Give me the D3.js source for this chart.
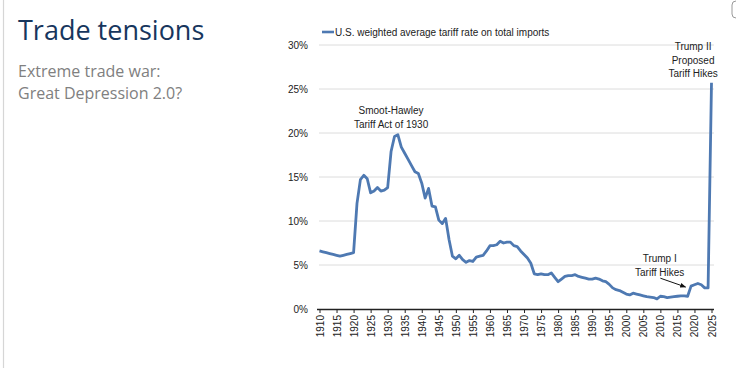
<!DOCTYPE html>
<html lang="en">
<head>
  <meta charset="UTF-8">
  <title>Trade tensions</title>
  <script src="https://d3js.org/d3.v7.min.js"></script>
  <style>
    body { margin: 0; background: #fff; }
    .title { font-family: "Open Sans", sans-serif; }
    .chart text { font-family: "Liberation Sans", Arial, sans-serif; font-size: 10px; fill: #222; }
    .grid line { stroke: #dcdcdc; stroke-width: 1; }
  </style>
</head>
<body>
<div id="chart"></div>
<script>
  // years of the series
  const years = [
    1910, 1911, 1912, 1913, 1914, 1915, 1916, 1917, 1918, 1919,
    1920, 1921, 1922, 1923, 1924, 1925, 1926, 1927, 1928, 1929,
    1930, 1931, 1932, 1933, 1934, 1935, 1936, 1937, 1938, 1939,
    1940, 1941, 1942, 1943, 1944, 1945, 1946, 1947, 1948, 1949,
    1950, 1951, 1952, 1953, 1954, 1955, 1956, 1957, 1958, 1959,
    1960, 1961, 1962, 1963, 1964, 1965, 1966, 1967, 1968, 1969,
    1970, 1971, 1972, 1973, 1974, 1975, 1976, 1977, 1978, 1979,
    1980, 1981, 1982, 1983, 1984, 1985, 1986, 1987, 1988, 1989,
    1990, 1991, 1992, 1993, 1994, 1995, 1996, 1997, 1998, 1999,
    2000, 2001, 2002, 2003, 2004, 2005, 2006, 2007, 2008, 2009,
    2010, 2011, 2012, 2013, 2014, 2015, 2016, 2017, 2018, 2019,
    2020, 2021, 2022, 2023, 2024, 2025
  ];
  // U.S. weighted average tariff rate on total imports (%)
  const tariff = [
    6.6, 6.5, 6.4, 6.3, 6.2, 6.1, 6.0, 6.1, 6.2, 6.3,
    6.4, 12.0, 14.7, 15.2, 14.8, 13.2, 13.4, 13.8, 13.4, 13.5,
    13.8, 17.9, 19.6, 19.8, 18.4, 17.7, 17.0, 16.3, 15.6, 15.4,
    14.3, 12.6, 13.7, 11.7, 11.6, 10.1, 9.7, 10.3, 7.9, 6.0,
    5.7, 6.1, 5.6, 5.3, 5.5, 5.4, 5.9, 6.0, 6.1, 6.6,
    7.2, 7.2, 7.3, 7.7, 7.5, 7.6, 7.6, 7.2, 7.1, 6.6,
    6.2, 5.8, 5.2, 4.0, 3.9, 4.0, 3.9, 3.9, 4.1, 3.6,
    3.1, 3.4, 3.7, 3.8, 3.8, 3.9, 3.7, 3.6, 3.5, 3.4,
    3.4, 3.5, 3.4, 3.2, 3.1, 2.8, 2.4, 2.2, 2.1, 1.9,
    1.7, 1.6, 1.8, 1.7, 1.6, 1.5, 1.4, 1.35, 1.3, 1.15,
    1.45, 1.4, 1.3, 1.35, 1.4, 1.45, 1.5, 1.5, 1.45, 2.6,
    2.75, 2.9, 2.75, 2.4, 2.4, 25.7
  ];
  const xTicks = [1910, 1915, 1920, 1925, 1930, 1935, 1940, 1945, 1950, 1955, 1960, 1965,
    1970, 1975, 1980, 1985, 1990, 1995, 2000, 2005, 2010, 2015, 2020, 2025];
  const yTicks = [0, 5, 10, 15, 20, 25, 30];
  const seriesName = "U.S. weighted average tariff rate on total imports";

  const W = 738, H = 368;
  const svg = d3.select("#chart").append("svg")
    .attr("width", W).attr("height", H);

  // slide frame bits
  svg.append("line").attr("x1", 3.5).attr("x2", 3.5).attr("y1", 0).attr("y2", H)
    .attr("stroke", "#d6d6d6").attr("stroke-width", 1.2);
  svg.append("path").attr("d", "M736,1 Q732,1 732,5 L732,14 Q732,18 736,18")
    .attr("fill", "none").attr("stroke", "#9a9a9a").attr("stroke-width", 1);

  // title block
  svg.append("text").attr("class", "title")
    .attr("x", 18).attr("y", 40)
    .style("font-size", "27px").style("fill", "#17365d")
    .text("Trade tensions");
  svg.append("text").attr("class", "title")
    .attr("x", 18).attr("y", 77)
    .style("font-size", "16px").style("fill", "#808080")
    .text("Extreme trade war:");
  svg.append("text").attr("class", "title")
    .attr("x", 18).attr("y", 99)
    .style("font-size", "16px").style("fill", "#808080")
    .text("Great Depression 2.0?");

  const g = svg.append("g").attr("class", "chart");

  const x = d3.scaleLinear().domain([1910, 2025]).range([319.5, 711.5]);
  const y = d3.scaleLinear().domain([0, 30]).range([309, 45]);

  // gridlines
  g.append("g").attr("class", "grid")
    .selectAll("line").data(yTicks.filter(d => d > 0)).join("line")
    .attr("x1", 319).attr("x2", 714)
    .attr("y1", d => y(d)).attr("y2", d => y(d));

  // y labels
  g.append("g").selectAll("text").data(yTicks).join("text")
    .attr("x", 308).attr("y", d => y(d)).attr("dy", "0.35em")
    .attr("text-anchor", "end")
    .text(d => d + "%");

  // x axis
  const xAxis = g.append("g")
    .attr("transform", `translate(0,${y(0)})`)
    .call(d3.axisBottom(x).tickValues(xTicks).tickSize(4).tickSizeOuter(0).tickFormat(d3.format("d")));
  xAxis.select(".domain").attr("stroke", "#222").attr("stroke-width", 1.5)
    .attr("d", `M317,0.5H714`);
  xAxis.selectAll(".tick line").attr("stroke", "#222");
  xAxis.selectAll(".tick text")
    .attr("font-family", "Liberation Sans, Arial, sans-serif").attr("font-size", 10).attr("fill", "#222")
    .attr("text-anchor", "end")
    .attr("transform", "translate(0,6) rotate(-90)")
    .attr("x", 0).attr("y", 0).attr("dy", "0.35em");

  // series line
  const pts = years.map((yr, i) => [yr, tariff[i]]);
  g.append("path").datum(pts)
    .attr("fill", "none").attr("stroke", "#4e79b2").attr("stroke-width", 2.8)
    .attr("stroke-linejoin", "round")
    .attr("d", d3.line().x(d => x(d[0])).y(d => y(d[1])));

  // legend
  g.append("line").attr("x1", 322).attr("x2", 334).attr("y1", 32).attr("y2", 32)
    .attr("stroke", "#4e79b2").attr("stroke-width", 2.6);
  g.append("text").attr("x", 335).attr("y", 35.5).text(seriesName);

  // annotations
  function note(lines, cx, cy) {
    const t = g.append("text").attr("text-anchor", "middle");
    lines.forEach((s, i) => t.append("tspan").attr("x", cx).attr("y", cy + i * 13.5).text(s));
  }
  note(["Smoot-Hawley", "Tariff Act of 1930"], x(1931), 114);
  note(["Trump II", "Proposed", "Tariff Hikes"], x(2019.6), 50);
  note(["Trump I", "Tariff Hikes"], x(2009.8), 262);

  svg.append("defs").append("marker").attr("id", "ah")
    .attr("viewBox", "0 0 10 10").attr("refX", 9).attr("refY", 5)
    .attr("markerWidth", 6).attr("markerHeight", 6).attr("orient", "auto")
    .append("path").attr("d", "M0,1L10,5L0,9Z").attr("fill", "#111");
  g.append("line")
    .attr("x1", x(2010)).attr("y1", y(3.5))
    .attr("x2", x(2017.4)).attr("y2", y(2.5))
    .attr("stroke", "#111").attr("stroke-width", 1)
    .attr("marker-end", "url(#ah)");
</script>
</body>
</html>
